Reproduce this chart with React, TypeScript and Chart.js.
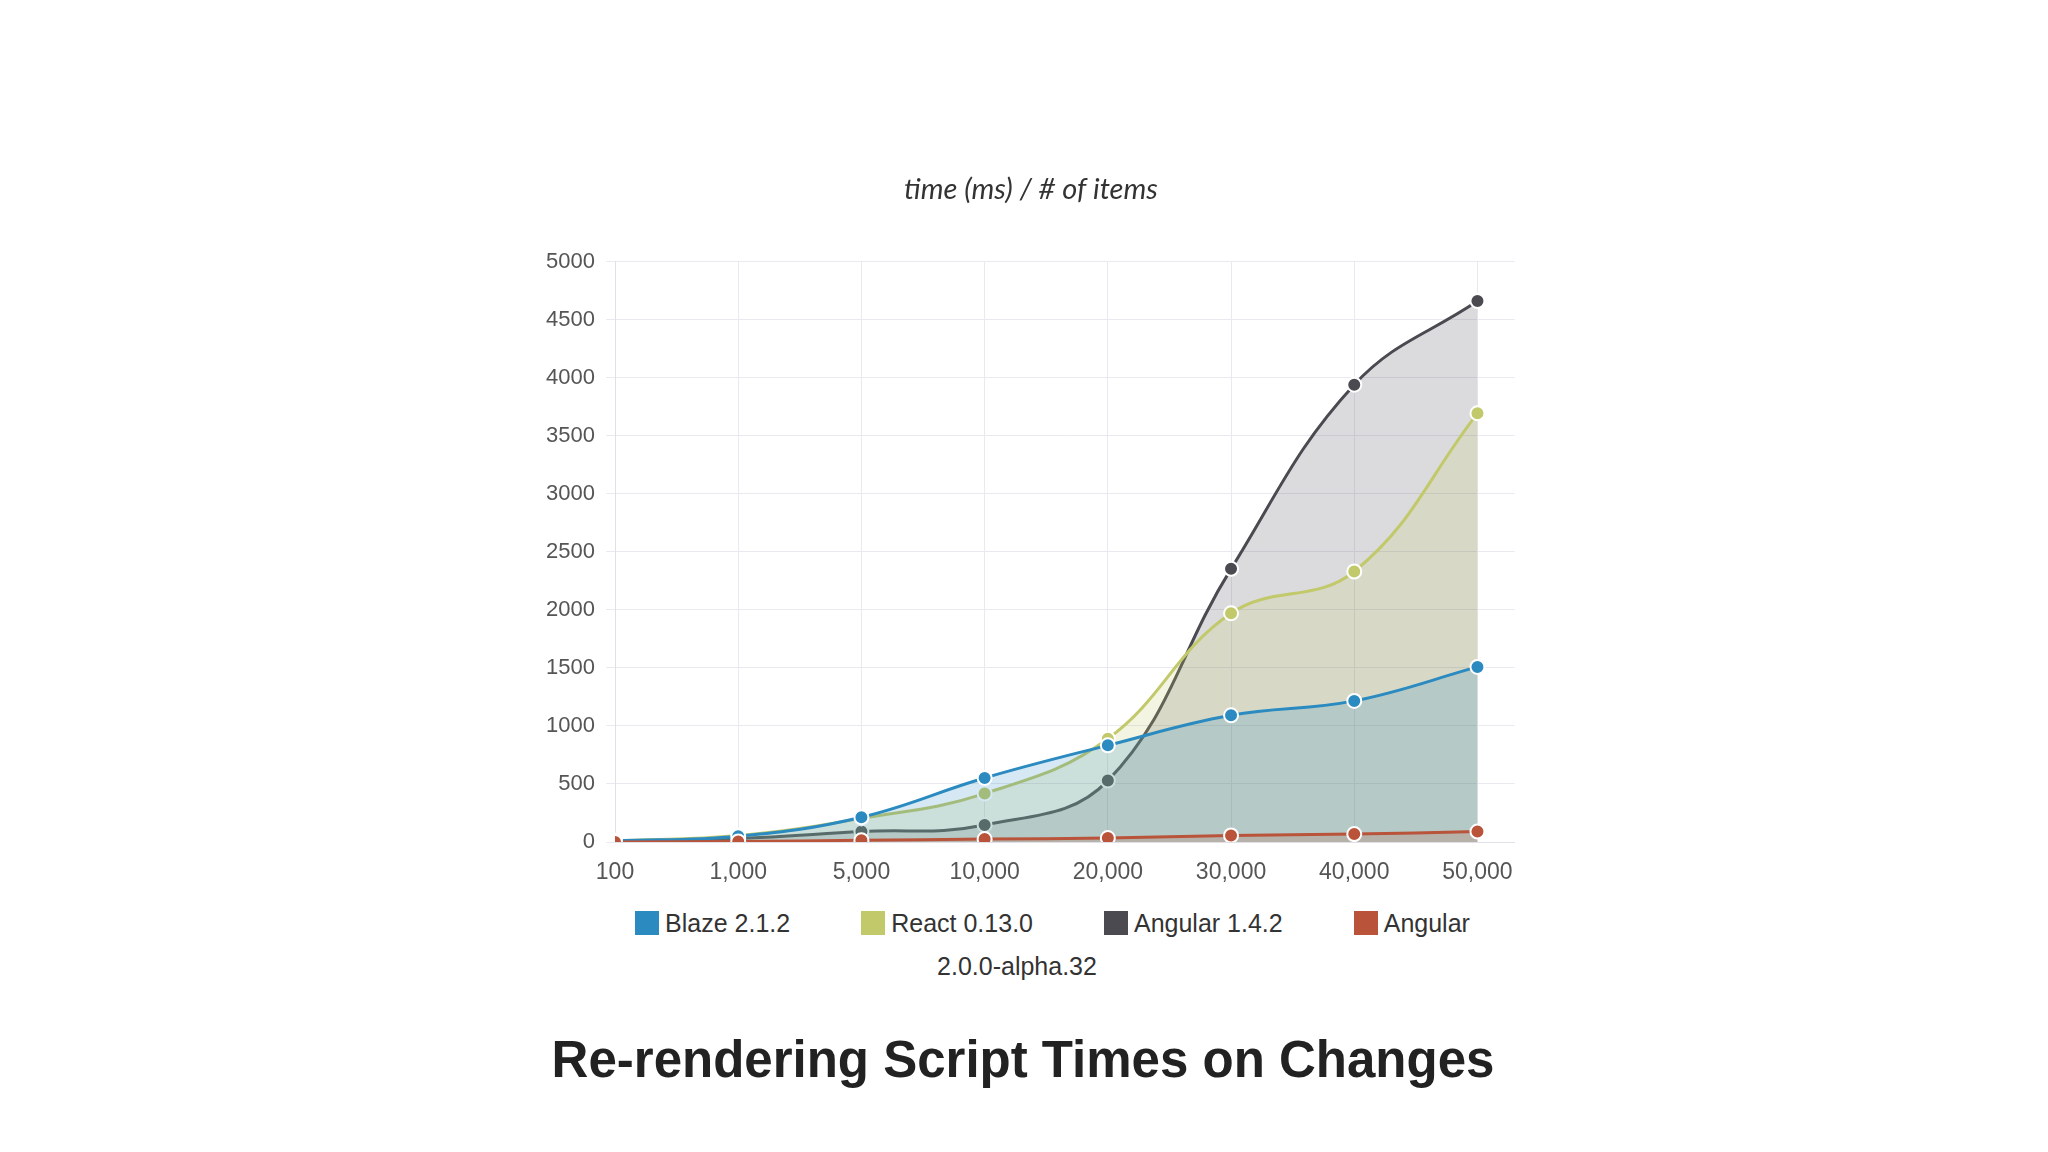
import React, { useEffect, useRef } from "react";
import { Chart, registerables } from "chart.js";

Chart.register(...registerables);

const categories = ["100", "1,000", "5,000", "10,000", "20,000", "30,000", "40,000", "50,000"];
const seriesNames = ["Blaze 2.1.2", "React 0.13.0", "Angular 1.4.2", "Angular 2.0.0-alpha.32"];
const blaze = [10, 50, 214, 552, 833, 1092, 1216, 1509];
const react = [10, 56, 203, 417, 890, 1971, 2331, 3694];
const angular1 = [5, 30, 90, 146, 529, 2354, 3941, 4662];
const angular2 = [0, 5, 15, 25, 34, 56, 68, 90];
const yTicks = [0, 500, 1000, 1500, 2000, 2500, 3000, 3500, 4000, 4500, 5000];
const chartTitle = "time (ms) / # of items";
const caption = "Re-rendering Script Times on Changes";

const lineColors = ["#2b8bc1", "#c1c96b", "#4a4a50", "#b9543b"];
const fillColors = [
  "rgba(43,139,193,0.2)",
  "rgba(193,201,107,0.2)",
  "rgba(74,74,86,0.2)",
  "rgba(185,84,59,0.2)",
];
const drawOrder = [1, 2, 3, 0];

export default function App() {
  const canvasRef = useRef<HTMLCanvasElement | null>(null);

  useEffect(() => {
    const all = [blaze, react, angular1, angular2];
    const chart = new Chart(canvasRef.current as HTMLCanvasElement, {
      type: "line",
      data: {
        datasets: all.map((vals, i) => ({
          label: seriesNames[i],
          data: vals.map((v, j) => ({ x: j, y: v })),
          borderColor: lineColors[i],
          backgroundColor: fillColors[i],
          pointBackgroundColor: lineColors[i],
          pointBorderColor: "#ffffff",
          pointBorderWidth: 2,
          pointRadius: 7,
          borderWidth: 3,
          tension: 0.4,
          fill: "origin",
          order: drawOrder[i],
        })),
      },
      options: {
        animation: false,
        responsive: false,
        maintainAspectRatio: false,
        layout: { padding: { left: 0, right: 8, top: 0, bottom: 0 } },
        plugins: {
          legend: { display: false },
          tooltip: { enabled: false },
          title: {
            display: true,
            text: chartTitle,
            color: "#333333",
            font: { family: "Lato", style: "italic", size: 29, weight: "normal" },
            padding: { top: 22, bottom: 55 },
          },
        },
        scales: {
          x: {
            type: "linear",
            min: 0,
            max: 7.3,
            afterBuildTicks: (scale: any) => {
              scale.ticks = categories.map((_, i) => ({ value: i }));
            },
            afterFit: (scale: any) => {
              scale.height = 58;
            },
            grid: { color: "#e9e9ef", drawTicks: false },
            border: { display: true, color: "#e0e0e6" },
            ticks: {
              padding: 17,
              autoSkip: false,
              maxRotation: 0,
              color: "#555555",
              font: { family: "Liberation Sans", size: 23 },
              callback: (v: any) => categories[Number(v)] ?? "",
            },
          },
          y: {
            min: 0,
            max: 5000,
            afterBuildTicks: (scale: any) => {
              scale.ticks = yTicks.map((v) => ({ value: v }));
            },
            afterFit: (scale: any) => {
              scale.width = 75;
            },
            grid: { color: "#e9e9ef", tickLength: 9 },
            border: { display: true, color: "#e0e0e6" },
            ticks: {
              padding: 11,
              color: "#555555",
              font: { family: "Liberation Sans", size: 22 },
              callback: (v: any) => String(v),
            },
          },
        },
      },
    });
    return () => chart.destroy();
  }, []);

  return (
    <div style={{ position: "absolute", left: 0, top: 0, width: 2048, height: 1152, background: "#ffffff" }}>
      <canvas
        ref={canvasRef}
        width={990}
        height={750}
        style={{ position: "absolute", left: 540, top: 150, width: 990, height: 750 }}
      />
      <div
        style={{
          position: "absolute",
          left: 552,
          top: 902,
          width: 930,
          textAlign: "center",
          fontFamily: "Liberation Sans",
          fontSize: 25,
          lineHeight: "43px",
          color: "#333333",
        }}
      >
        {seriesNames.map((name, i) => (
          <span key={name} style={{ marginLeft: 71 }}>
            <span
              style={{
                display: "inline-block",
                width: 24,
                height: 24,
                background: lineColors[i],
                marginRight: 6,
                verticalAlign: "-3px",
              }}
            />
            {name.split(" ").map((w, k) => (
              <React.Fragment key={k}>
                {k > 0 ? " " : ""}
                <span style={{ whiteSpace: "nowrap" }}>{w}</span>
              </React.Fragment>
            ))}
          </span>
        ))}
      </div>
      <div
        style={{
          position: "absolute",
          left: 0,
          width: 2048,
          top: 1030,
          textAlign: "center",
          fontFamily: "Liberation Sans",
          fontWeight: "bold",
          fontSize: 51,
          color: "#222222",
        }}
      >
        <span style={{ position: "relative", left: -1 }}>{caption}</span>
      </div>
    </div>
  );
}
